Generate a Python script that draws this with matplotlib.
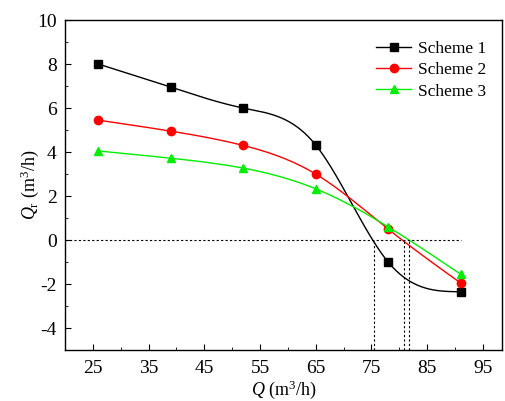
import numpy as np
import matplotlib
matplotlib.use("Agg")
import matplotlib.pyplot as plt
from matplotlib.ticker import MultipleLocator

plt.rcParams['font.family'] = ['Liberation Serif', 'DejaVu Serif']
plt.rcParams['mathtext.fontset'] = 'custom'
plt.rcParams['mathtext.rm'] = 'Liberation Serif'
plt.rcParams['mathtext.it'] = 'Liberation Serif:italic'
plt.rcParams['axes.unicode_minus'] = False

Q = [26, 39, 52, 65, 78, 91]
scheme1 = [8.0, 6.95, 6.0, 4.32, -1.0, -2.35]
scheme2 = [5.45, 4.95, 4.3, 3.0, 0.5, -1.95]
scheme3 = [4.05, 3.72, 3.27, 2.33, 0.6, -1.55]
labels = ['Scheme 1', 'Scheme 2', 'Scheme 3']
colors = ['black', 'red', '#00ee00']
markers = ['s', 'o', '^']
zero_cross = [75.4, 80.9, 81.8]


def natural_spline(x, y, n=300):
    x = np.asarray(x, float); y = np.asarray(y, float)
    k = len(x); h = np.diff(x)
    A = np.zeros((k, k)); b = np.zeros(k)
    A[0, 0] = A[-1, -1] = 1
    for i in range(1, k - 1):
        A[i, i - 1] = h[i - 1]; A[i, i] = 2 * (h[i - 1] + h[i]); A[i, i + 1] = h[i]
        b[i] = 3 * ((y[i + 1] - y[i]) / h[i] - (y[i] - y[i - 1]) / h[i - 1])
    c = np.linalg.solve(A, b)
    xs = np.linspace(x[0], x[-1], n)
    idx = np.clip(np.searchsorted(x, xs) - 1, 0, k - 2)
    dx = xs - x[idx]
    bb = (y[1:] - y[:-1]) / h - h * (2 * c[:-1] + c[1:]) / 3
    d = (c[1:] - c[:-1]) / (3 * h)
    ys = y[idx] + bb[idx] * dx + c[idx] * dx ** 2 + d[idx] * dx ** 3
    return xs, ys


fig = plt.figure(figsize=(5.05, 4.01), dpi=100)
ax = fig.add_axes([0.1287, 0.127, 0.865, 0.823])

for ys, lab, col, mk in zip([scheme1, scheme2, scheme3], labels, colors, markers):
    ms = 6 if mk != 's' else 5.5
    xs, yy = natural_spline(Q, ys)
    ax.plot(xs, yy, color=col, lw=1.0)
    ax.plot(Q, ys, linestyle='none', marker=mk, color=col, ms=ms)
    ax.plot([], [], color=col, lw=1.0, marker=mk, ms=ms, label=lab)

ax.plot([20, Q[-1]], [0, 0], color='black', ls=(0, (2, 2)), lw=0.8)
for zc in zero_cross:
    ax.plot([zc, zc], [-5, 0], color='black', ls=(0, (2, 2)), lw=0.8)

ax.set_xlim(20, 98.4)
ax.set_ylim(-5, 10)
ax.set_xticks([25, 35, 45, 55, 65, 75, 85, 95])
ax.xaxis.set_minor_locator(MultipleLocator(5))
ax.set_yticks([-4, -2, 0, 2, 4, 6, 8, 10])
ax.yaxis.set_minor_locator(MultipleLocator(1))
ax.tick_params(which='both', direction='in', labelsize=14, top=False, right=False)
ax.tick_params(which='major', length=4)
ax.tick_params(which='minor', length=2)
ax.tick_params(axis='y', pad=6)
ax.tick_params(axis='x', pad=7)
for s in ax.spines.values():
    s.set_linewidth(1.0)

ax.set_xlabel(r'$Q$ (m$^3$/h)', fontsize=13, labelpad=1)
ax.set_ylabel(r'$Q_{\rm r}$ (m$^3$/h)', fontsize=13, labelpad=-3)

ax.legend(loc='upper right', frameon=False, fontsize=12.5, handlelength=2.0,
          handletextpad=0.4, labelspacing=0.3, bbox_to_anchor=(1.0, 0.985))

fig.savefig('out.png', dpi=100)
